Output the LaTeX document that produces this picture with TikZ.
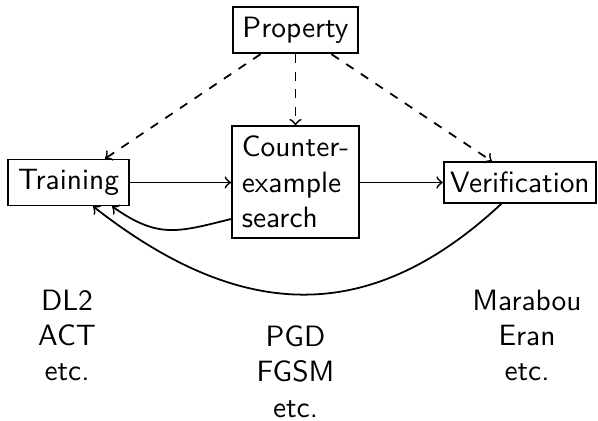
\documentclass[tikz,border=0pt]{standalone}
\begin{document}
\begin{tikzpicture}[x=0.3401pt,y=-0.3401pt,font=\sffamily,line width=0.6pt,
  box/.style={draw,align=center},
  lbl/.style={align=center},
  dep/.style={->,dashed}]
\useasboundingbox (0,0) rectangle (598,420);
\node[box] (pr) at (295.5,30.3) {Property};
\node[box,align=left] (cs) at (295.5,182) {Counter-\\example\\search};
\node[box] (tr) at (68.5,182.5) {Training};
\node[box,anchor=east,inner xsep=2.2pt] (ve) at (597,182.5) {Verification};
\node[lbl] (l1) at (67,335.5) {DL2\\ACT\\etc.};
\node[lbl] (l2) at (295.5,371.5) {PGD\\FGSM\\etc.};
\node[lbl] (l3) at (527,335.5) {Marabou\\Eran\\etc.};
\draw[->] (tr.east) -- (cs.west |- tr.east);
\draw[->] (cs.east |- ve.west) -- (ve.west);
\draw[dep] ([shift={(-35,0)}]pr.south) -- ([shift={(36.5,0)}]tr.north);
\draw[dep] (pr.south) -- (cs.north);
\draw[dep] ([shift={(36,0)}]pr.south) -- ([shift={(-28,0)}]ve.north);
\draw[->] ([shift={(0,37)}]cs.west) to[out=-166,in=-35,looseness=1.2] ([shift={(43.5,0)}]tr.south);
\draw[->] ([shift={(-18.5,0)}]ve.south) to[out=-137,in=-38,looseness=1.15] ([shift={(24.5,0)}]tr.south);
\end{tikzpicture}
\end{document}
